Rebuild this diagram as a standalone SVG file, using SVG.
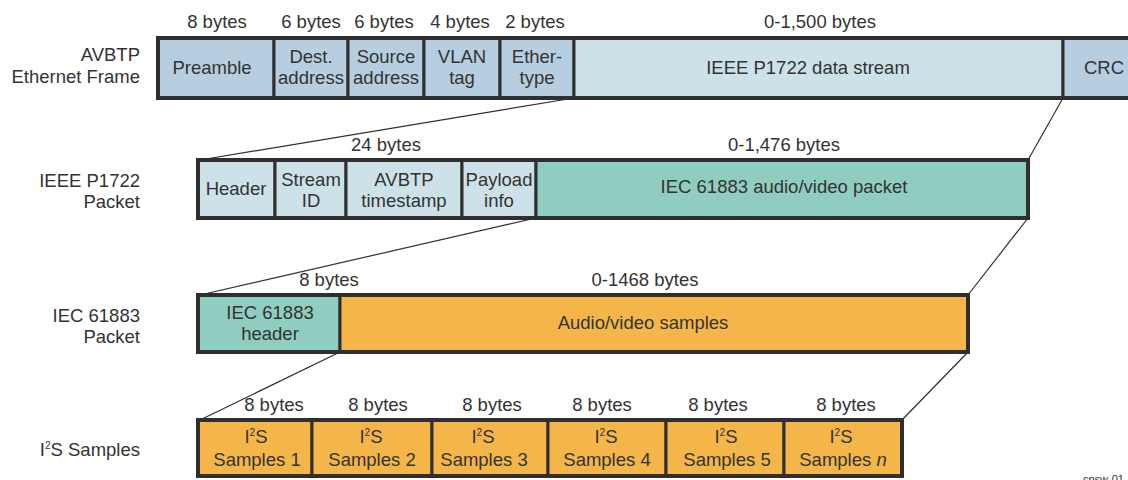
<svg xmlns="http://www.w3.org/2000/svg" width="1128" height="480" viewBox="0 0 1128 480">
<style>
text{font-family:"Liberation Sans",Arial,sans-serif;font-size:18.5px;fill:#333}
.m{text-anchor:middle}
.r{text-anchor:end}
.c{stroke:#2f2f2f;stroke-width:3}
.o{fill:none;stroke:#2f2f2f;stroke-width:4}
.b{fill:#b6cee0}
.l{fill:#cde1e8}
.t{fill:#90cdc1}
.y{fill:#f5b649}
.ln{stroke:#2f2f2f;stroke-width:1.2;fill:none}
.sup{font-size:10px}
</style>
<rect width="1128" height="480" fill="#fff"/>
<g id="labels-left">
<text class="r" x="140" y="61">AVBTP</text>
<text class="r" x="140" y="83">Ethernet Frame</text>
<text class="r" x="140" y="187">IEEE P1722</text>
<text class="r" x="140" y="208">Packet</text>
<text class="r" x="140" y="322">IEC 61883</text>
<text class="r" x="140" y="343">Packet</text>
<text class="r" x="140" y="456">I<tspan class="sup" dy="-7">2</tspan><tspan dy="7">S Samples</tspan></text>
</g>
<g id="connectors">
<line class="ln" x1="574" y1="98" x2="200" y2="160"/>
<line class="ln" x1="1063" y1="98" x2="1028" y2="160"/>
<line class="ln" x1="536" y1="218" x2="200" y2="295"/>
<line class="ln" x1="1028" y1="218" x2="968" y2="295"/>
<line class="ln" x1="340" y1="352" x2="200" y2="420"/>
<line class="ln" x1="968" y1="352" x2="902" y2="420"/>
</g>
<g id="row1">
<text class="m" x="217" y="28">8 bytes</text>
<text class="m" x="311" y="28">6 bytes</text>
<text class="m" x="384" y="28">6 bytes</text>
<text class="m" x="460" y="28">4 bytes</text>
<text class="m" x="535" y="28">2 bytes</text>
<text class="m" x="820" y="28">0-1,500 bytes</text>
<g id="preamble"><rect class="b c" x="158" y="38" width="116" height="60"/><text class="m" x="212" y="74">Preamble</text></g>
<g id="dest"><rect class="b c" x="274" y="38" width="74" height="60"/><text class="m" x="311" y="63">Dest.</text><text class="m" x="311" y="84">address</text></g>
<g id="source"><rect class="b c" x="348" y="38" width="76" height="60"/><text class="m" x="386" y="63">Source</text><text class="m" x="386" y="84">address</text></g>
<g id="vlan"><rect class="b c" x="424" y="38" width="76" height="60"/><text class="m" x="462" y="63">VLAN</text><text class="m" x="462" y="84">tag</text></g>
<g id="ethertype"><rect class="b c" x="500" y="38" width="74" height="60"/><text class="m" x="537" y="63">Ether-</text><text class="m" x="537" y="84">type</text></g>
<g id="datastream"><rect class="l c" x="574" y="38" width="489" height="60"/><text class="m" x="808" y="74">IEEE P1722 data stream</text></g>
<g id="crc"><rect class="b c" x="1063" y="38" width="80" height="60"/><text class="m" x="1104" y="74">CRC</text></g>
<rect class="o" x="158" y="38" width="990" height="60"/>
</g>
<g id="row2">
<text class="m" x="386" y="151">24 bytes</text>
<text class="m" x="784" y="151">0-1,476 bytes</text>
<g id="header"><rect class="l c" x="198" y="160" width="77" height="58"/><text class="m" x="236" y="195">Header</text></g>
<g id="streamid"><rect class="l c" x="275" y="160" width="71" height="58"/><text class="m" x="311" y="186">Stream</text><text class="m" x="311" y="207">ID</text></g>
<g id="timestamp"><rect class="l c" x="346" y="160" width="116" height="58"/><text class="m" x="404" y="186">AVBTP</text><text class="m" x="404" y="207">timestamp</text></g>
<g id="payload"><rect class="l c" x="462" y="160" width="74" height="58"/><text class="m" x="499" y="186">Payload</text><text class="m" x="499" y="207">info</text></g>
<g id="avpacket"><rect class="t c" x="536" y="160" width="492" height="58"/><text class="m" x="784" y="193">IEC 61883 audio/video packet</text></g>
<rect class="o" x="198" y="160" width="830" height="58"/>
</g>
<g id="row3">
<text class="m" x="329" y="286">8 bytes</text>
<text class="m" x="645" y="286">0-1468 bytes</text>
<g id="iecheader"><rect class="t c" x="198" y="295" width="142" height="57"/><text class="m" x="270" y="319">IEC 61883</text><text class="m" x="270" y="340">header</text></g>
<g id="avsamples"><rect class="y c" x="340" y="295" width="628" height="57"/><text class="m" x="643" y="329">Audio/video samples</text></g>
<rect class="o" x="198" y="295" width="770" height="57"/>
</g>
<g id="row4">
<text class="m" x="274" y="411">8 bytes</text>
<text class="m" x="378" y="411">8 bytes</text>
<text class="m" x="492" y="411">8 bytes</text>
<text class="m" x="602" y="411">8 bytes</text>
<text class="m" x="718" y="411">8 bytes</text>
<text class="m" x="846" y="411">8 bytes</text>
<g id="s1"><rect class="y c" x="198" y="420" width="114" height="56"/><text class="m" x="256" y="443">I<tspan class="sup" dy="-7">2</tspan><tspan dy="7">S</tspan></text><text class="m" x="257" y="466">Samples 1</text></g>
<g id="s2"><rect class="y c" x="312" y="420" width="120" height="56"/><text class="m" x="371" y="443">I<tspan class="sup" dy="-7">2</tspan><tspan dy="7">S</tspan></text><text class="m" x="372" y="466">Samples 2</text></g>
<g id="s3"><rect class="y c" x="432" y="420" width="116" height="56"/><text class="m" x="483" y="443">I<tspan class="sup" dy="-7">2</tspan><tspan dy="7">S</tspan></text><text class="m" x="484" y="466">Samples 3</text></g>
<g id="s4"><rect class="y c" x="548" y="420" width="118" height="56"/><text class="m" x="606" y="443">I<tspan class="sup" dy="-7">2</tspan><tspan dy="7">S</tspan></text><text class="m" x="607" y="466">Samples 4</text></g>
<g id="s5"><rect class="y c" x="666" y="420" width="118" height="56"/><text class="m" x="726" y="443">I<tspan class="sup" dy="-7">2</tspan><tspan dy="7">S</tspan></text><text class="m" x="727" y="466">Samples 5</text></g>
<g id="sn"><rect class="y c" x="784" y="420" width="118" height="56"/><text class="m" x="841" y="443">I<tspan class="sup" dy="-7">2</tspan><tspan dy="7">S</tspan></text><text class="m" x="843" y="466">Samples <tspan font-style="italic">n</tspan></text></g>
<rect class="o" x="198" y="420" width="704" height="56"/>
</g>
<text x="1083" y="483" style="font-size:11px">cpsw-01</text>
</svg>
